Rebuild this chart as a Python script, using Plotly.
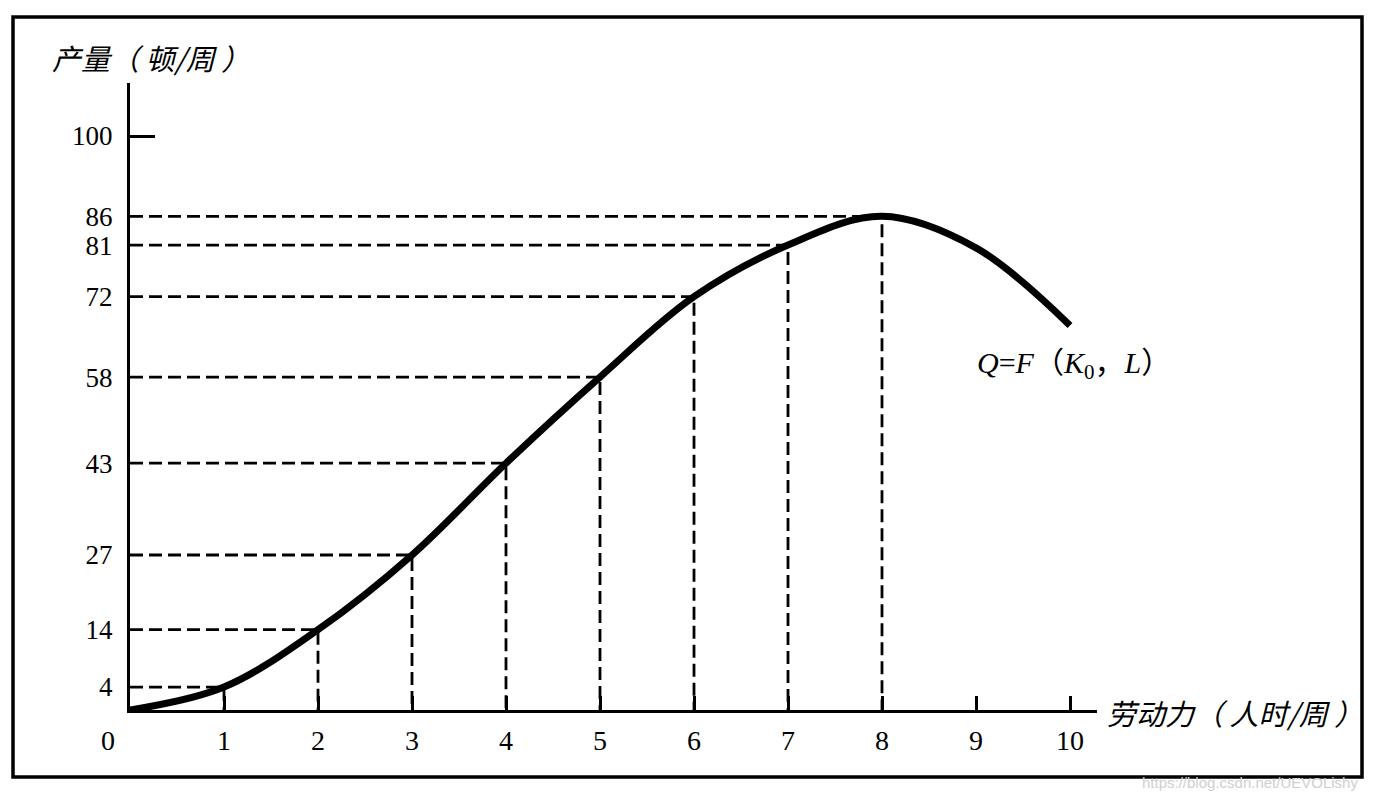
import plotly.graph_objects as go

# ---- data ----
labor = [0, 1, 2, 3, 4, 5, 6, 7, 8, 9, 10]
output = [0, 4, 14, 27, 43, 58, 72, 81, 86, 80.5, 67]
guide_points = [1, 2, 3, 4, 5, 6, 7, 8]          # points with dashed guides
y_ticks = [4, 14, 27, 43, 58, 72, 81, 86, 100]
x_ticks = [1, 2, 3, 4, 5, 6, 7, 8, 9, 10]
y_title = "产量（ 顿/周 ）"
x_title = "劳动力（ 人时/周 ）"
curve_label = "<i>Q</i>=<i>F</i>（<i>K</i><sub>0</sub>，<i>L</i>）"
watermark = "https://blog.csdn.net/UEVOLishy"

# page body has an 8px margin; work in page pixels and subtract it
OFF = 8
W, H = 1363, 783
AX_L, AX_R, AX_T, AX_B = 130, 1097, 83, 710   # page px of plot area
L_M = AX_L - OFF
T_M = AX_T - OFF
R_M = W - (AX_R - OFF)
B_M = H - (AX_B - OFF)
pw, ph = AX_R - AX_L, AX_B - AX_T
XPX, YPX = 94.0, 5.74
x_range = [0, pw / XPX]
y_range = [0, ph / YPX]


def px_x(p):  # page px -> paper x
    return (p - AX_L) / pw


def px_y(p):  # page px -> paper y
    return (AX_B - p) / ph


SERIF = "Liberation Serif, Times New Roman, serif"
CJK = "Noto Sans CJK SC"

fig = go.Figure()

# dashed guides
for k in guide_points:
    q = output[labor.index(k)]
    fig.add_trace(go.Scatter(
        x=[0, k, k], y=[q, q, 0], mode="lines",
        line=dict(color="black", width=2.8, dash="13px,6px"),
        hoverinfo="skip", showlegend=False, cliponaxis=False))

# production curve
fig.add_trace(go.Scatter(
    x=labor, y=output, mode="lines",
    line=dict(color="black", width=7, shape="spline", smoothing=1.0),
    showlegend=False, cliponaxis=False))

# invisible trace to activate the secondary y axis (single tick at 100)
fig.add_trace(go.Scatter(x=[0], y=[y_ticks[-1]], yaxis="y2", mode="markers",
                         marker=dict(opacity=0), showlegend=False, hoverinfo="skip"))

fig.update_layout(
    width=W, height=H, autosize=False,
    margin=dict(l=L_M, r=R_M, t=T_M, b=B_M, autoexpand=False),
    paper_bgcolor="white", plot_bgcolor="white",
    showlegend=False,
    xaxis=dict(range=x_range, showgrid=False, zeroline=False,
               showline=True, linecolor="black", linewidth=3,
               tickmode="array", tickvals=x_ticks,
               ticks="inside", ticklen=14, tickwidth=3, tickcolor="black",
               ticklabelstandoff=3,
               tickfont=dict(family=SERIF, size=28, color="black")),
    yaxis=dict(range=y_range, showgrid=False, zeroline=False,
               showline=True, linecolor="black", linewidth=3,
               tickmode="array", tickvals=y_ticks, ticks="",
               ticklabelstandoff=9,
               tickfont=dict(family=SERIF, size=27, color="black")),
    yaxis2=dict(range=y_range, overlaying="y", side="left", showgrid=False,
                zeroline=False, showline=False,
                tickmode="array", tickvals=[y_ticks[-1]],
                ticks="inside", ticklen=25, tickwidth=3, tickcolor="black",
                showticklabels=False),
)

annos = [
    dict(text="0", x=0, y=0, xref="x", yref="y", xshift=-22, yshift=-30,
         showarrow=False, xanchor="center", yanchor="middle",
         font=dict(family=SERIF, size=28, color="black")),
    dict(text=y_title, x=px_x(50), y=px_y(57),
         xref="paper", yref="paper", showarrow=False,
         xanchor="left", yanchor="middle",
         font=dict(family=CJK, size=29, color="black", style="italic")),
    dict(text=x_title, x=px_x(1105), y=px_y(712),
         xref="paper", yref="paper", showarrow=False,
         xanchor="left", yanchor="middle",
         font=dict(family=CJK, size=29, color="black", style="italic")),
    dict(text=curve_label, x=(975 - AX_L) / XPX, y=(AX_B - 365) / YPX,
         xref="x", yref="y", showarrow=False,
         xanchor="left", yanchor="middle",
         font=dict(family=SERIF + ", " + CJK, size=30, color="black")),
    dict(text=watermark, x=px_x(1140), y=px_y(782),
         xref="paper", yref="paper", showarrow=False,
         xanchor="left", yanchor="middle",
         font=dict(family="Liberation Sans, Arial, sans-serif", size=15, color="#cfcfcf")),
]
fig.update_layout(annotations=annos)

# outer frame
fig.add_shape(type="rect", xref="paper", yref="paper",
              x0=px_x(13), x1=px_x(1362),
              y0=px_y(777), y1=px_y(17),
              line=dict(color="black", width=3.5), fillcolor="rgba(0,0,0,0)",
              layer="above")

fig.write_html("out.html")
